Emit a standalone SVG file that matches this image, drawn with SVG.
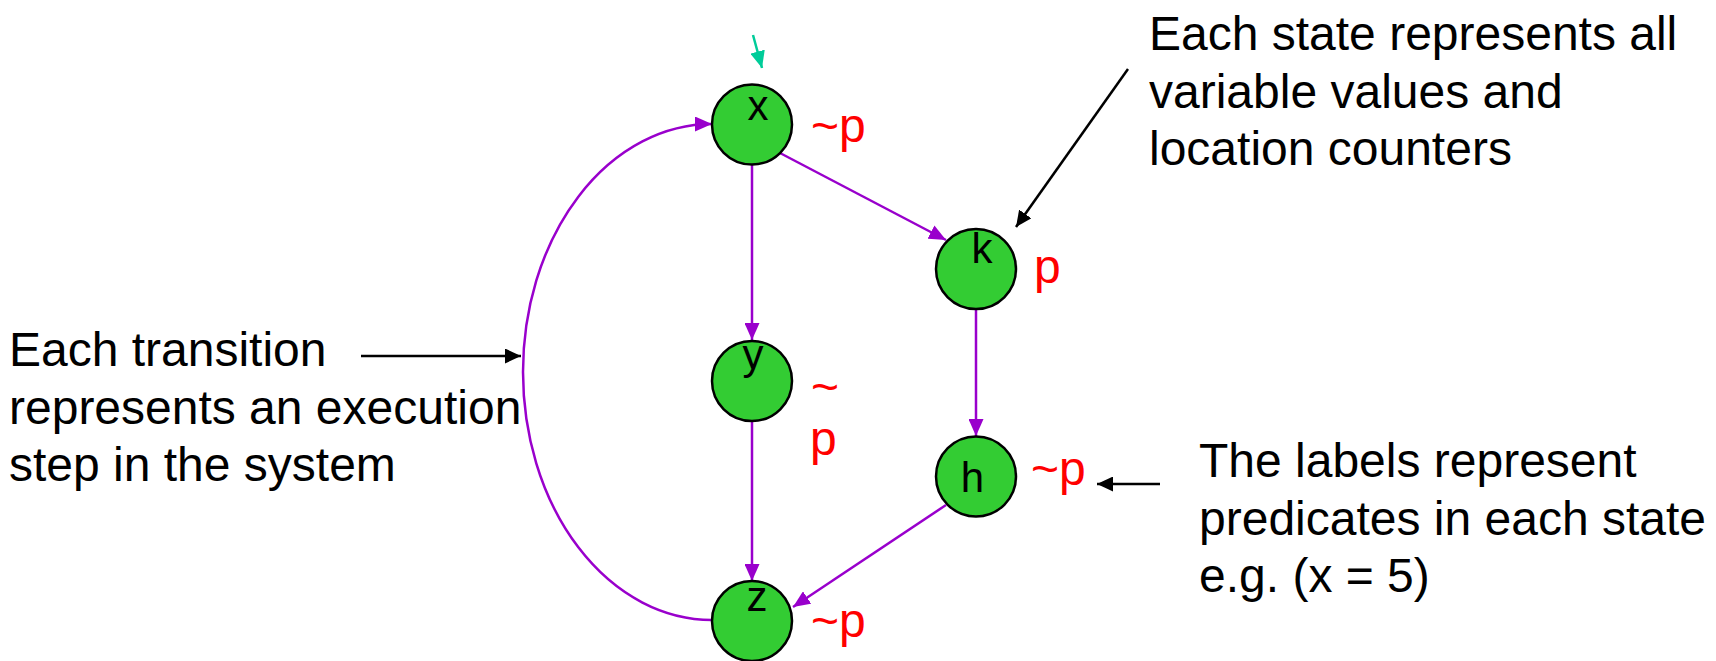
<svg xmlns="http://www.w3.org/2000/svg" width="1716" height="661" viewBox="0 0 1716 661">
<style>
.node{fill:#33CC33;stroke:#000;stroke-width:2.5}
.nl{font-family:"Liberation Sans",Arial,sans-serif;font-size:42px;fill:#000;text-anchor:middle}
.pl{font-family:"Liberation Sans",Arial,sans-serif;font-size:48px;fill:#FF0000}
.tx{font-family:"Liberation Sans",Arial,sans-serif;font-size:48px;fill:#000}
.edge{fill:none;stroke:#9900CC;stroke-width:2.5;marker-end:url(#ap)}
.ann{fill:none;stroke:#000;stroke-width:2.5;marker-end:url(#ab)}
</style>
<defs>
<marker id="ap" markerUnits="userSpaceOnUse" markerWidth="17" markerHeight="15" refX="17" refY="7.5" orient="auto"><path d="M0,0 L17,7.5 L0,15 z" fill="#9900CC"/></marker>
<marker id="ab" markerUnits="userSpaceOnUse" markerWidth="16" markerHeight="15" refX="16" refY="7.5" orient="auto"><path d="M0,0 L16,7.5 L0,15 z" fill="#000"/></marker>
<marker id="ag" markerUnits="userSpaceOnUse" markerWidth="17" markerHeight="15" refX="17" refY="7.5" orient="auto"><path d="M0,0 L17,7.5 L0,15 z" fill="#00CC99"/></marker>
</defs>
<g id="connectors">
<line class="edge" x1="752" y1="165" x2="752" y2="340"/>
<line class="edge" x1="780" y1="153" x2="946" y2="240"/>
<line class="edge" x1="976" y1="309" x2="976" y2="436"/>
<line class="edge" x1="752" y1="421" x2="752" y2="581"/>
<line class="edge" x1="946" y1="505" x2="793" y2="607"/>
<path class="edge" d="M712,620 A189,248 0 0 1 712,124"/>
<line x1="753" y1="35" x2="762" y2="68" stroke="#00CC99" stroke-width="2.5" marker-end="url(#ag)"/>
<line class="ann" x1="1128" y1="69" x2="1016" y2="227"/>
<line class="ann" x1="361" y1="356" x2="521" y2="356"/>
<line class="ann" x1="1160" y1="484" x2="1097" y2="484"/>
</g>
<g id="node-x"><circle class="node" cx="752" cy="124.5" r="40"/><text class="nl" x="758" y="120">x</text><text class="pl" x="811" y="142">~p</text></g>
<g id="node-k"><circle class="node" cx="976" cy="269" r="40"/><text class="nl" x="982" y="263">k</text><text class="pl" x="1034" y="283">p</text></g>
<g id="node-y"><circle class="node" cx="752" cy="381" r="40"/><text class="nl" x="753" y="369">y</text><text class="pl" x="811" y="403">~</text><text class="pl" x="810" y="455">p</text></g>
<g id="node-h"><circle class="node" cx="976" cy="476.5" r="40"/><text class="nl" x="972.5" y="491.5">h</text><text class="pl" x="1031" y="485">~p</text></g>
<g id="node-z"><circle class="node" cx="752" cy="621" r="40"/><text class="nl" x="757" y="611">z</text><text class="pl" x="811" y="637">~p</text></g>
<g id="note-transition"><text class="tx" x="9" y="366">Each transition</text><text class="tx" x="9" y="424">represents an execution</text><text class="tx" x="9" y="481">step in the system</text></g>
<g id="note-state"><text class="tx" x="1149" y="50">Each state represents all</text><text class="tx" x="1149" y="108">variable values and</text><text class="tx" x="1149" y="165">location counters</text></g>
<g id="note-labels"><text class="tx" x="1199" y="477">The labels represent</text><text class="tx" x="1199" y="535">predicates in each state</text><text class="tx" x="1199" y="592">e.g. (x = 5)</text></g>
</svg>
